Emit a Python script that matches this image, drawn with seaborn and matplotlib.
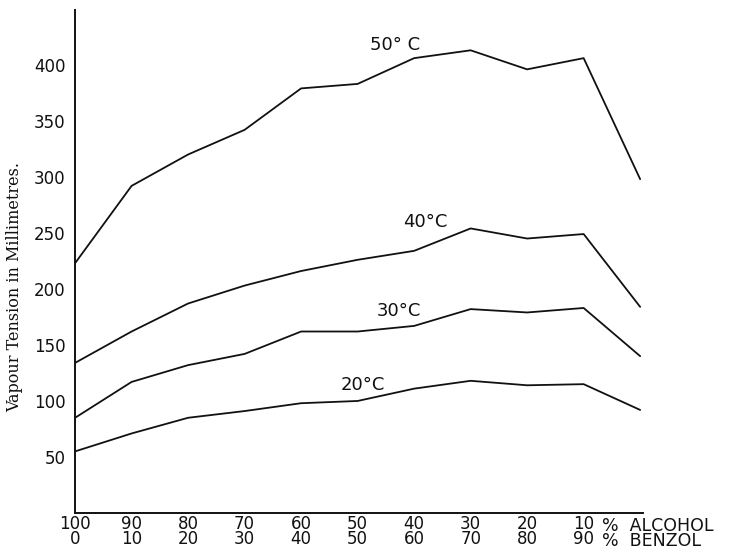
import pandas as pd
import matplotlib
matplotlib.use("Agg")
import matplotlib.pyplot as plt
import seaborn as sns

# --- data ---
alcohol = [100, 90, 80, 70, 60, 50, 40, 30, 20, 10, 0]
benzol = [0, 10, 20, 30, 40, 50, 60, 70, 80, 90, 100]
t50 = [223, 292, 320, 342, 379, 383, 406, 413, 396, 406, 298]
t40 = [134, 162, 187, 203, 216, 226, 234, 254, 245, 249, 184]
t30 = [85, 117, 132, 142, 162, 162, 167, 182, 179, 183, 140]
t20 = [55, 71, 85, 91, 98, 100, 111, 118, 114, 115, 92]
curve_names = ["50° C", "40°C", "30°C", "20°C"]
yticks = [50, 100, 150, 200, 250, 300, 350, 400]
xtick_labels = [f"{a}\n{b}" for a, b in zip(alcohol[:-1], benzol[:-1])]

rows = []
for name, vals in zip(curve_names, [t50, t40, t30, t20]):
    for b, v in zip(benzol, vals):
        rows.append({"benzol": b, "tension": v, "curve": name})
df = pd.DataFrame(rows)

sns.set_style("white")
fig = plt.figure(figsize=(7.29, 5.54), dpi=100)
ax = fig.add_axes([0.103, 0.074, 0.779, 0.908])

sns.lineplot(data=df, x="benzol", y="tension", hue="curve",
             palette=["#111111"] * 4, linewidth=1.3, legend=False, ax=ax)

# curve labels
label_pos = {"50° C": (56.7, 418), "40°C": (61.9, 260),
             "30°C": (57.3, 180), "20°C": (51.0, 114)}
for name, (x, y) in label_pos.items():
    ax.text(x, y, name, ha="center", va="center", fontsize=13, color="#111111")

ax.set_xlim(0, 100.5)
ax.set_ylim(0, 449)
ax.set_yticks(yticks)
ax.set_yticklabels([str(t) for t in yticks], fontsize=12, color="#111111")
ax.set_xticks(benzol[:-1])
ax.set_xticklabels(xtick_labels, fontsize=12, color="#111111", linespacing=0.8)
ax.tick_params(axis="both", length=0)
ax.tick_params(axis="y", pad=7)
ax.tick_params(axis="x", pad=1.5)

ax.text(93.3, -0.008, "%  ALCOHOL\n%  BENZOL", transform=ax.get_xaxis_transform(),
        ha="left", va="top", fontsize=12.5, color="#111111", linespacing=0.8)

ax.set_xlabel("")
ax.set_ylabel("Vapour Tension in Millimetres.", family="DejaVu Serif",
              fontsize=11.5, color="#111111")
ax.yaxis.set_label_coords(-0.092, 0.449)

sns.despine(ax=ax)
for s in ["left", "bottom"]:
    ax.spines[s].set_color("#111111")
    ax.spines[s].set_linewidth(1.4)

fig.savefig("out.png", dpi=100)
